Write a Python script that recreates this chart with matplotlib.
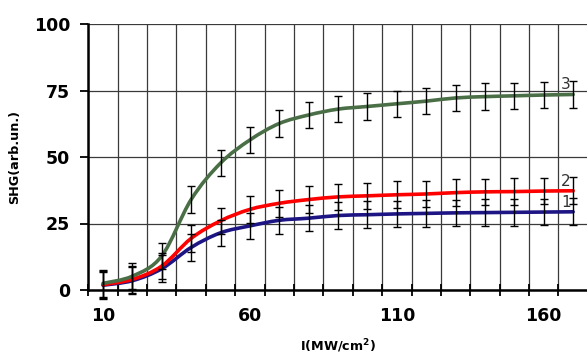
import matplotlib

matplotlib.use('Agg')
import matplotlib.pyplot as plt
from matplotlib.path import Path
from matplotlib.patches import PathPatch

# intensity, MW/cm2
intensity = [10, 20, 30, 40, 50, 60, 70, 80, 90, 100, 110, 120, 130, 140, 150, 160, 170]
shg_1 = [1.8, 3.5, 8.0, 16.0, 21.5, 24.1, 26.2, 27.0, 28.0, 28.3, 28.6, 28.8, 29.0, 29.1, 29.2, 29.3, 29.4]
shg_2 = [2.0, 4.0, 9.0, 19.4, 26.0, 30.3, 32.6, 34.0, 35.0, 35.4, 35.8, 36.1, 36.6, 36.9, 37.0, 37.2, 37.3]
shg_3 = [2.5, 5.2, 12.8, 34.0, 47.7, 56.4, 62.6, 65.8, 68.0, 69.0, 70.0, 71.0, 72.2, 72.7, 73.0, 73.3, 73.5]
err = 5
series = [(shg_1, '#1d1584', '1'), (shg_2, '#ff0000', '2'), (shg_3, '#4a6e46', '3')]

x_labels = [10, 60, 110, 160]
y_ticks = [0, 25, 50, 75, 100]


def smooth_path(xs, ys):
    """Excel-like smoothed line as a cubic bezier path."""
    pts = list(zip(xs, ys))
    verts = [pts[0]]
    codes = [Path.MOVETO]
    n = len(pts)
    for i in range(n - 1):
        p0 = pts[max(i - 1, 0)]
        p1 = pts[i]
        p2 = pts[i + 1]
        p3 = pts[min(i + 2, n - 1)]
        c1 = (p1[0] + (p2[0] - p0[0]) / 6, p1[1] + (p2[1] - p0[1]) / 6)
        c2 = (p2[0] - (p3[0] - p1[0]) / 6, p2[1] - (p3[1] - p1[1]) / 6)
        verts += [c1, c2, p2]
        codes += [Path.CURVE4] * 3
    return Path(verts, codes)


fig = plt.figure(figsize=(5.87, 3.55), dpi=100)
ax = fig.add_axes([88.3 / 587, 65 / 355, 499.5 / 587, 266 / 355])

for ys, color, lbl in series:
    ax.add_patch(PathPatch(smooth_path(intensity, ys), facecolor='none',
                           edgecolor=color, lw=2.6, zorder=3, capstyle='round'))
for ys, color, lbl in series:
    eb = ax.errorbar(intensity, ys, yerr=err, fmt='none', ecolor='black',
                     elinewidth=1, capsize=3, capthick=1, zorder=4)
    for art in eb.lines[1] + eb.lines[2]:
        art.set_clip_on(False)
    ax.text(167.5, ys[-1] + 3.6, lbl, fontsize=11, color='#333333',
            ha='center', va='center', zorder=5)

ax.set_xlim(5, 175)
ax.set_ylim(0, 100)

# gridlines between categories, labels on the categories
ax.set_xticks(list(range(5, 176, 10)))
ax.set_xticklabels([])
ax.set_xticks(x_labels, minor=True)
ax.set_xticklabels([str(v) for v in x_labels], minor=True,
                   fontsize=12.5, fontweight='bold')
ax.tick_params(axis='x', which='major', direction='inout', length=8, width=1.3)
ax.tick_params(axis='x', which='minor', length=0, pad=12)

ax.set_yticks(y_ticks)
ax.set_yticklabels([str(v) for v in y_ticks], fontsize=12.5, fontweight='bold')
ax.tick_params(axis='y', direction='out', length=6, width=1.3, pad=7)

ax.grid(True, which='major', color='#3a3a3a', lw=0.9, zorder=0)
ax.spines['top'].set_visible(False)
ax.spines['right'].set_visible(False)
ax.spines['left'].set_linewidth(1.8)
ax.spines['bottom'].set_linewidth(1.8)

ax.set_ylabel('SHG(arb.un.)', fontsize=9.2, fontweight='bold')
ax.yaxis.set_label_coords(-0.135, 0.5)
ax.set_xlabel('I(MW/cm$^\\mathbf{2}$)', fontsize=9.2, fontweight='bold')
ax.xaxis.set_label_coords(0.5, -0.18)

fig.patch.set_facecolor('white')
fig.savefig('out.png', dpi=100)
plt.close(fig)
